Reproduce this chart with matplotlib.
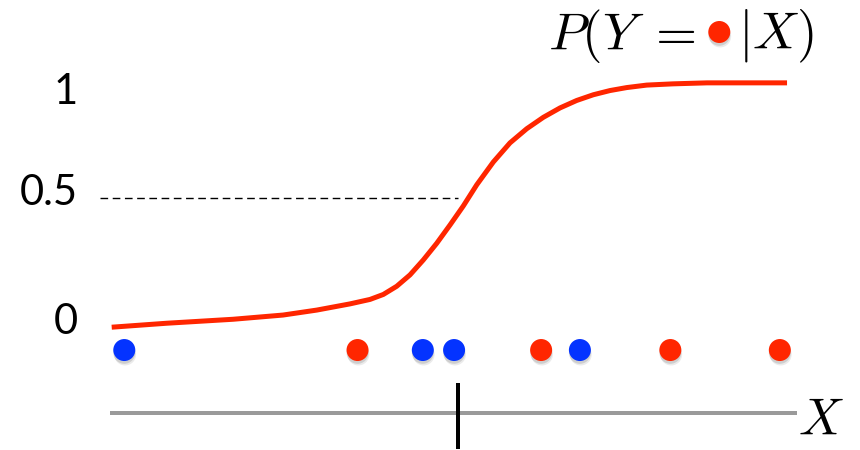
import matplotlib
matplotlib.use("Agg")
import matplotlib.pyplot as plt
import matplotlib.patheffects as pe

plt.rcParams["mathtext.fontset"] = "cm"

# Fitted probability curve, sampled along x
curve_x = [0.025, 0.834, 1.809, 2.544, 3.040, 3.529, 3.824, 4.019, 4.216, 4.412,
           4.607, 4.804, 5.000, 5.196, 5.393, 5.637, 5.882, 6.128, 6.372, 6.618,
           6.863, 7.107, 7.353, 7.599, 7.893, 8.279, 8.779, 9.956]
curve_p = [-0.021, -0.005, 0.011, 0.028, 0.048, 0.073, 0.091, 0.111, 0.144, 0.190,
           0.250, 0.317, 0.391, 0.468, 0.553, 0.645, 0.722, 0.779, 0.825, 0.863,
           0.893, 0.916, 0.933, 0.945, 0.955, 0.960, 0.964, 0.964]

# Observed samples on the x axis and their class
sample_x = [0.21, 3.64, 4.60, 5.06, 6.34, 6.91, 8.24, 9.85]
sample_cls = ["blue", "red", "blue", "blue", "red", "blue", "red", "red"]

tick_values = [0, 0.5, 1]
tick_labels = ["0", "0.5", "1"]
tick_offsets_px = [0, 5, -18]

boundary_x = 5.12

RED = "#ff2600"
BLUE = "#0433ff"
colors = {"red": RED, "blue": BLUE}

fig = plt.figure(figsize=(8.6, 4.5), dpi=100)
ax = fig.add_axes([0, 0, 1, 1])
ax.set_xlim(-1.6176, 11.029)
ax.set_ylim(-0.516, 1.298)
ax.axis("off")

px = 100 / 72  # pixels per point


def shadow():
    return [pe.SimplePatchShadow(offset=(0, -2.0), shadow_rgbFace="#000000", alpha=0.12),
            pe.SimplePatchShadow(offset=(0.6, -3.2), shadow_rgbFace="#000000", alpha=0.08),
            pe.Normal()]


# 0.5 threshold
ax.plot([-0.147, boundary_x], [0.5, 0.5], color="black", lw=1.0,
        dashes=(5.5, 3.3), zorder=2)

# probability curve
ax.plot(curve_x, curve_p, color=RED, lw=5 / px, solid_capstyle="butt",
        solid_joinstyle="round", zorder=3)

# samples
row = -0.113
for x, c in zip(sample_x, sample_cls):
    ax.scatter([x], [row], s=(22 / px) ** 2, color=colors[c], edgecolors="none",
               zorder=4, path_effects=shadow())

# x axis with decision boundary
ax.plot([0, 10.1], [-0.367, -0.367], color="#9a9a9a", lw=4 / px,
        solid_capstyle="butt", zorder=1)
ax.plot([boundary_x, boundary_x], [-0.246, -0.511], color="black", lw=4 / px,
        solid_capstyle="butt", zorder=2)
ax.text(10.11, -0.456, "$X$", fontsize=37, ha="left", va="baseline")

# y tick labels
for v, lab, off in zip(tick_values, tick_labels, tick_offsets_px):
    ax.annotate(lab, xy=(-0.47, v), xytext=(0, off), textcoords="offset pixels",
                ha="right", va="center", fontsize=30, family="Lato")

# title: P(Y = red | X)
ax.text(8.60, 1.097, r"$P(Y\;=$", fontsize=38, ha="right", va="baseline")
ax.scatter([8.96], [1.169], s=(22 / px) ** 2, color=RED, edgecolors="none",
           zorder=4, path_effects=shadow())
ax.text(9.24, 1.097, "$|X)$", fontsize=38, ha="left", va="baseline")

fig.savefig("out.png", dpi=100)
